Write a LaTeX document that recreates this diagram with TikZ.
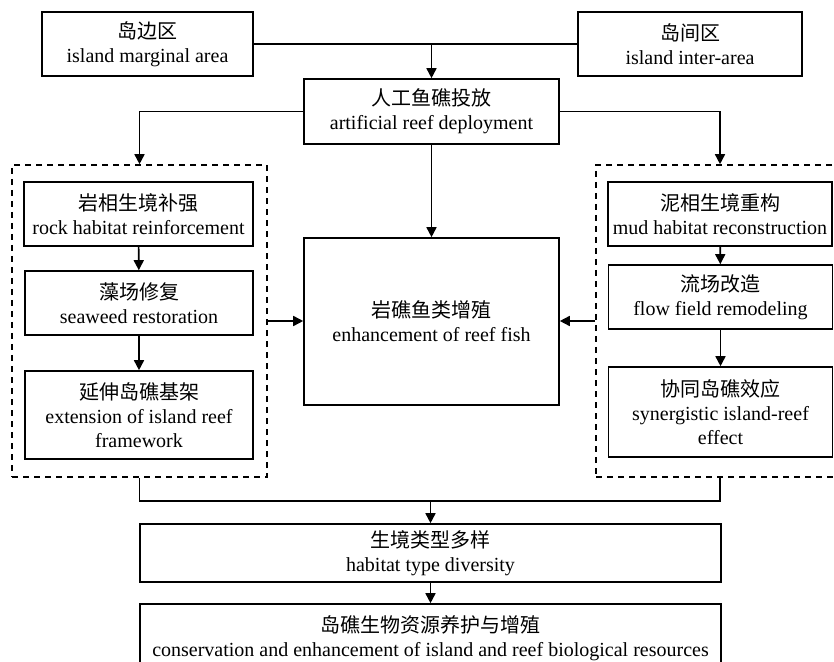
\documentclass[tikz,border=0pt]{standalone}
\usepackage{fontspec}
\setmainfont{Liberation Serif}
\newfontfamily\cjk{Noto Sans CJK SC}
\usetikzlibrary{arrows.meta}

\begin{document}
\begin{tikzpicture}[x=0.5pt,y=-0.5pt]
  \tikzset{box/.style 2 args = {draw, line width=0.8pt, align=center, inner sep=0pt,
      minimum width=#1*0.5pt, minimum height=#2*0.5pt, font=\fontsize{10}{12}\selectfont}}
  \tikzset{group/.style 2 args = {draw, dash pattern=on 3pt off 2.5pt, line width=0.8pt,
      inner sep=0pt, minimum width=#1*0.5pt, minimum height=#2*0.5pt}}
  \tikzset{edge/.style = {line width=0.8pt}}
  \tikzset{arr/.style = {edge, -{Triangle[length=5pt,width=5pt]}}}

  \useasboundingbox (0,0) rectangle (834,662);

  % dashed groups
  \node[group={255}{312}] (lgrp) at (139.5,321) {};
  \node[group={248}{312}] (rgrp) at (720,321) {};

  % top boxes
  \node[box={211}{64}] (isle) at (147.5,44) {{\cjk 岛边区}\\island marginal area};
  \node[box={224}{64}] (inter) at (690,44) {{\cjk 岛间区}\\island inter-area};
  \node[box={255}{65}] (deploy) at (431.5,111.5) {{\cjk 人工鱼礁投放}\\artificial reef deployment};
  \node[box={255}{167}] (fish) at (431.5,321.5) {{\cjk 岩礁鱼类增殖}\\enhancement of reef fish};

  % left group
  \node[box={229}{64}] (rock) at (138.5,214) {{\cjk 岩相生境补强}\\rock habitat reinforcement};
  \node[box={228}{64}] (weed) at (139,303) {{\cjk 藻场修复}\\seaweed restoration};
  \node[box={228}{88}] (ext) at (139,415) {{\cjk 延伸岛礁基架}\\extension of island reef\\framework};

  % right group
  \node[box={224}{64}] (mud) at (720,214) {{\cjk 泥相生境重构}\\mud habitat reconstruction};
  \node[box={224}{64}] (flow) at (720.5,297) {{\cjk 流场改造}\\flow field remodeling};
  \node[box={224}{90}] (syn) at (720.5,412) {{\cjk 协同岛礁效应}\\synergistic island-reef\\effect};

  % bottom boxes
  \node[box={581}{58}] (div) at (430.5,553) {{\cjk 生境类型多样}\\habitat type diversity};
  \node[box={581}{68}] (cons) at (430.5,638) {{\cjk 岛礁生物资源养护与增殖}\\conservation and enhancement of island and reef biological resources};

  % edges
  \coordinate (top) at (deploy.north |- isle.east);
  \coordinate (bot) at (430.5,501);
  \draw[edge] (isle.east) -- (inter.west);
  \draw[arr] (top) -- (deploy.north);
  \draw[arr] (deploy.west) -| (lgrp.north);
  \draw[arr] (deploy.east) -| (rgrp.north);
  \draw[arr] (deploy) -- (fish);
  \draw[arr] (lgrp.east) -- (lgrp.east -| fish.west);
  \draw[arr] (rgrp.west) -- (rgrp.west -| fish.east);
  \foreach \a/\b in {rock/weed, weed/ext, mud/flow, flow/syn}
  {
    \draw[arr] (\a) -- (\b);
  }
  \draw[edge] (lgrp.south) |- (bot) -| (rgrp.south);
  \draw[arr] (bot) -- (div);
  \draw[arr] (div) -- (cons);

\end{tikzpicture}
\end{document}
